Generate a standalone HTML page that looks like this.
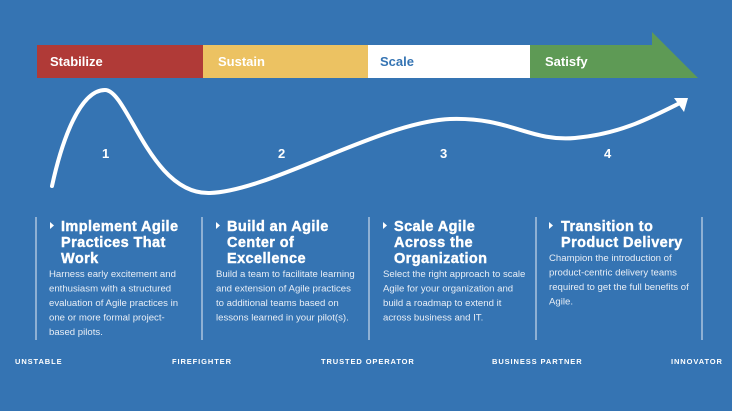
<!DOCTYPE html>
<html><head><meta charset="utf-8"><style>
html,body{margin:0;padding:0;background:#3574b3;}
svg{display:block}
.t{font-family:"Liberation Sans",sans-serif;font-weight:bold;fill:#fff;font-size:14.5px;letter-spacing:0.4px;stroke:#fff;stroke-width:0.4px;}
.b{font-family:"Liberation Sans",sans-serif;fill:#e8eef6;font-size:9.6px;}
.l{font-family:"Liberation Sans",sans-serif;font-weight:bold;fill:#fff;font-size:7.5px;letter-spacing:0.9px;}
.h{font-family:"Liberation Sans",sans-serif;font-weight:bold;font-size:13px;}
.n{font-family:"Liberation Sans",sans-serif;font-weight:bold;fill:#fff;font-size:13px;}
</style></head><body>
<svg width="732" height="411" viewBox="0 0 732 411" xmlns="http://www.w3.org/2000/svg">
<rect width="732" height="411" fill="#3574b3"/>
<rect x="37" y="45" width="166" height="33" fill="#b03a37"/>
<rect x="203" y="45" width="165" height="33" fill="#ecc262"/>
<rect x="368" y="45" width="162" height="33" fill="#ffffff"/>
<rect x="530" y="45" width="123" height="33" fill="#5e9a55"/>
<polygon points="652,32 698,78 652,78" fill="#5e9a55"/>
<text class="h" x="50" y="66" fill="#fff">Stabilize</text>
<text class="h" x="218" y="66" fill="#fff">Sustain</text>
<text class="h" x="380" y="66" fill="#3574b3">Scale</text>
<text class="h" x="545" y="66" fill="#fff">Satisfy</text>
<path d="M52,186 C62,140 80,90 105,90 C128,90 150,195 210,193 C270,191 380,122 450,119 C510,117 530,142 575,138 C620,134 650,118 680,103" fill="none" stroke="#fff" stroke-width="4" stroke-linecap="round"/>
<polygon points="688,98 674,98 684,112" fill="#fff"/>
<text class="n" x="102" y="158">1</text>
<text class="n" x="278" y="158">2</text>
<text class="n" x="440" y="158">3</text>
<text class="n" x="604" y="158">4</text>
<g stroke="#c9d8ea" stroke-width="1.2">
<line x1="36" y1="217" x2="36" y2="340"/>
<line x1="202" y1="217" x2="202" y2="340"/>
<line x1="369" y1="217" x2="369" y2="340"/>
<line x1="536" y1="217" x2="536" y2="340"/>
<line x1="702" y1="217" x2="702" y2="340"/>
</g>
<g fill="#fff">
<polygon points="50,222 54,225.5 50,229"/>
<polygon points="216,222 220,225.5 216,229"/>
<polygon points="383,222 387,225.5 383,229"/>
<polygon points="549,222 553,225.5 549,229"/>
</g>
<text class="t" x="61" y="231">Implement Agile</text>
<text class="t" x="61" y="247">Practices That</text>
<text class="t" x="61" y="263">Work</text>
<text class="b"><tspan x="49" y="277">Harness early excitement and</tspan><tspan x="49" y="291.5">enthusiasm with a structured</tspan><tspan x="49" y="306">evaluation of Agile practices in</tspan><tspan x="49" y="320.5">one or more formal project-</tspan><tspan x="49" y="335">based pilots.</tspan></text>
<text class="t" x="227" y="231">Build an Agile</text>
<text class="t" x="227" y="247">Center of</text>
<text class="t" x="227" y="263">Excellence</text>
<text class="b"><tspan x="216" y="277">Build a team to facilitate learning</tspan><tspan x="216" y="291.5">and extension of Agile practices</tspan><tspan x="216" y="306">to additional teams based on</tspan><tspan x="216" y="320.5">lessons learned in your pilot(s).</tspan></text>
<text class="t" x="394" y="231">Scale Agile</text>
<text class="t" x="394" y="247">Across the</text>
<text class="t" x="394" y="263">Organization</text>
<text class="b"><tspan x="383" y="277">Select the right approach to scale</tspan><tspan x="383" y="291.5">Agile for your organization and</tspan><tspan x="383" y="306">build a roadmap to extend it</tspan><tspan x="383" y="320.5">across business and IT.</tspan></text>
<text class="t" x="561" y="231">Transition to</text>
<text class="t" x="561" y="247">Product Delivery</text>
<text class="b"><tspan x="549" y="261">Champion the introduction of</tspan><tspan x="549" y="275.5">product-centric delivery teams</tspan><tspan x="549" y="290">required to get the full benefits of</tspan><tspan x="549" y="304.5">Agile.</tspan></text>
<text class="l" x="15" y="364">UNSTABLE</text>
<text class="l" x="172" y="364">FIREFIGHTER</text>
<text class="l" x="321" y="364">TRUSTED OPERATOR</text>
<text class="l" x="492" y="364">BUSINESS PARTNER</text>
<text class="l" x="671" y="364">INNOVATOR</text>
</svg>
</body></html>
